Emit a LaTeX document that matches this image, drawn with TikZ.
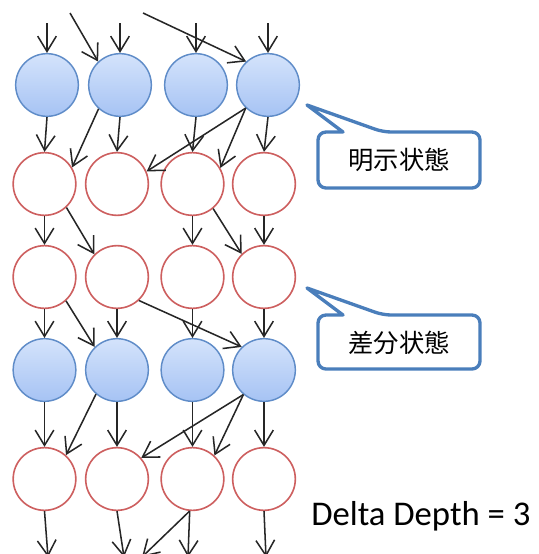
\documentclass[tikz,border=0pt]{standalone}
\usepackage{fontspec}
\newfontfamily\cjkfont{Noto Sans CJK JP}
\newfontfamily\calfont{Carlito}
\usetikzlibrary{arrows.meta}
\definecolor{bstroke}{RGB}{95,140,200}
\definecolor{btop}{RGB}{212,227,251}
\definecolor{bbot}{RGB}{166,195,244}
\definecolor{rstroke}{RGB}{205,95,95}
\definecolor{callc}{RGB}{74,126,187}
\begin{document}
\begin{tikzpicture}[x=0.75pt,y=-0.75pt,
  bst/.style={circle,minimum size=47pt,inner sep=0pt,draw=bstroke,line width=1.1pt,top color=btop,bottom color=bbot},
  rst/.style={circle,minimum size=47pt,inner sep=0pt,draw=rstroke,line width=1.2pt,fill=white},
  arr/.style={-{Straight Barb[length=11.5pt,width=14pt]},line width=1.15pt,black!85},
  callout/.style={draw=callc,line width=2.5pt,line join=round,fill=white},
  ctext/.style={font=\cjkfont\fontsize{19}{19}\selectfont},
]
\useasboundingbox (0,0) rectangle (539,554);

% row 1 (explicit states)
\node[bst] (B11) at (47,85) {};
\node[bst] (B12) at (120,85) {};
\node[bst] (B13) at (196,85) {};
\node[bst] (B14) at (268,85) {};
% row 2
\node[rst] (R21) at (44.5,184) {};
\node[rst] (R22) at (117,184) {};
\node[rst] (R23) at (192.5,184) {};
\node[rst] (R24) at (264,184) {};
% row 3
\node[rst] (R31) at (44.5,277) {};
\node[rst] (R32) at (117,277) {};
\node[rst] (R33) at (192.5,277) {};
\node[rst] (R34) at (264,277) {};
% row 4
\node[bst] (B41) at (44.5,370) {};
\node[bst] (B42) at (117,370) {};
\node[bst] (B43) at (192.5,370) {};
\node[bst] (B44) at (264,370) {};
% row 5
\node[rst] (R51) at (44.5,479) {};
\node[rst] (R52) at (117,479) {};
\node[rst] (R53) at (192.5,479) {};
\node[rst] (R54) at (264,479) {};

% free ends
\coordinate (t1) at (47,23);
\coordinate (t2) at (120,23);
\coordinate (t3) at (196,23);
\coordinate (t4) at (268,23);
\coordinate (td1) at (70,13);
\coordinate (td2) at (143,13);
\coordinate (e1) at (48,557);
\coordinate (e2) at (124,557);
\coordinate (e3) at (188,557);
\coordinate (e3d) at (142,557);
\coordinate (e4) at (266,557);

% incoming
\draw[arr] (t1) -- (B11.north);
\draw[arr] (t2) -- (B12.north);
\draw[arr] (t3) -- (B13.north);
\draw[arr] (t4) -- (B14.north);
\draw[arr] (td1) -- (B12.133);
\draw[arr] (td2) -- (B14.133);

% row1 -> row2
\draw[arr] (B11.south) -- (R21.north);
\draw[arr] (B12.south) -- (R22.north);
\draw[arr] (B13.south) -- (R23.north);
\draw[arr] (B14.south) -- (R24.north);
\draw[arr] (B12.228) -- (R21.31);
\draw[arr] (B14.226) -- (R22.23);
\draw[arr] (B14.226) -- (R23.30);

% row2 -> row3
\draw[arr] (R21.south) -- (R31.north);
\draw[arr] (R23.south) -- (R33.north);
\draw[arr] (R24.south) -- (R34.north);
\draw[arr] (R21.313) -- (R32.135);
\draw[arr] (R23.310) -- (R34.134);

% row3 -> row4
\draw[arr] (R31.south) -- (B41.north);
\draw[arr] (R32.south) -- (B42.north);
\draw[arr] (R33.south) -- (B43.north);
\draw[arr] (R34.south) -- (B44.north);
\draw[arr] (R31.312) -- (B42.134);
\draw[arr] (R32.313) -- (B44.134);

% row4 -> row5
\draw[arr] (B41.south) -- (R51.north);
\draw[arr] (B42.south) -- (R52.north);
\draw[arr] (B43.south) -- (R53.north);
\draw[arr] (B44.south) -- (R54.north);
\draw[arr] (B42.229) -- (R51.48);
\draw[arr] (B44.230) -- (R52.41);
\draw[arr] (B44.230) -- (R53.47);

% outgoing
\draw[arr] (R51.south) -- (e1);
\draw[arr] (R52.south) -- (e2);
\draw[arr] (R53.265) -- (e3);
\draw[arr] (R53.265) -- (e3d);
\draw[arr] (R54.south) -- (e4);

% callouts
\draw[callout] (480,160) [rounded corners=6pt] -- (480,132) -- (383,132) [sharp corners] -- (307,105) -- (343,132) [rounded corners=6pt] -- (318,132) -- (318,188) -- (480,188) -- cycle;
\node[ctext] (c1) at (399,160) {明示状態};
\draw[callout] (480,342) [rounded corners=6pt] -- (480,315) -- (383,315) [sharp corners] -- (307,288) -- (343,315) [rounded corners=6pt] -- (318,315) -- (318,369) -- (480,369) -- cycle;
\node[ctext] (c2) at (399,343) {差分状態};

\node[font=\calfont\fontsize{26}{26}\selectfont,anchor=base west,inner sep=0pt] (dd) at (311,525) {Delta Depth = 3};
\end{tikzpicture}
\end{document}
